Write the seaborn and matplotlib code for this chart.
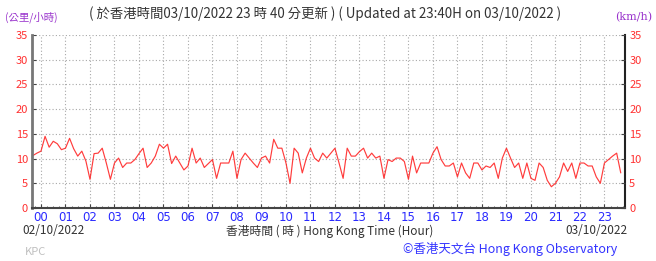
import numpy as np
import pandas as pd
import matplotlib
matplotlib.use("Agg")
import matplotlib.pyplot as plt
from matplotlib.ticker import MultipleLocator
import seaborn as sns

# ---- data (10-minute samples, minutes relative to 00:00 of 03/10/2022) ----
minutes = np.arange(-20, 1421, 10)
speed_kmh = [
    10.6, 11.1, 11.5, 14.5, 12.3, 13.5, 13.0, 11.8, 12.1, 14.1,
    12.0, 10.5, 11.5, 9.5, 5.8, 11.0, 11.1, 12.1, 9.1, 5.8,
    9.1, 10.1, 8.2, 9.1, 9.1, 9.8, 11.0, 12.1, 8.2, 9.1,
    10.5, 12.9, 12.1, 12.9, 9.0, 10.5, 9.1,
    7.7, 8.5, 12.1, 9.1, 10.1, 8.2, 9.0, 9.8, 6.0, 9.1,
    9.1, 9.1, 11.5, 6.0, 9.8, 11.1, 10.1, 9.1, 8.2, 10.1,
    10.5, 9.1, 13.9, 12.1, 12.1, 9.1, 5.0, 12.1, 11.1, 7.1,
    10.1, 12.1, 10.1, 9.4, 11.1,
    10.1, 11.1, 12.1, 9.1, 6.0, 12.1, 10.5, 10.5, 11.4, 12.1,
    10.1, 11.1, 10.1, 10.5, 6.0, 9.8, 9.4, 10.1, 10.1, 9.4,
    5.8, 10.5, 7.1, 9.1, 9.1, 9.1, 11.1, 12.4, 9.8, 8.5,
    8.5, 9.1, 6.3, 9.1, 7.1, 6.0,
    9.1, 9.1, 7.7, 8.5, 8.2, 9.1, 6.0, 10.1, 12.1, 10.1,
    8.2, 9.1, 6.0, 9.1, 6.0, 5.6, 9.1, 8.2, 5.6, 4.3,
    5.0, 6.3, 9.1, 7.4, 9.1, 6.0, 9.1, 9.1, 8.5, 8.5,
    6.3, 5.0, 9.1, 9.8, 10.5, 11.1, 7.1,
]
hour_labels = [f"{h:02d}" for h in range(24)]
y_ticks = [0, 5, 10, 15, 20, 25, 30, 35]

title_text = "( 於香港時間03/10/2022 23 時 40 分更新 ) ( Updated at 23:40H on 03/10/2022 )"
unit_zh = "(公里/小時)"
unit_en = "(km/h)"
date_left = "02/10/2022"
date_right = "03/10/2022"
xlabel_text = "香港時間 ( 時 ) Hong Kong Time (Hour)"
station = "KPC"
credit = "©香港天文台 Hong Kong Observatory"

df = pd.DataFrame({"hour": minutes / 60.0, "speed": speed_kmh})

# ---- style ----
sns.set_theme(style="white")
plt.rcParams["font.family"] = ["Noto Sans CJK TC", "DejaVu Sans"]

W, H = 656, 261
fig = plt.figure(figsize=(W / 100, H / 100), dpi=100)
fig.patch.set_facecolor("white")

x0, x1, ytop, ybot = 32, 625, 35, 208
ax = fig.add_axes([x0 / W, 1 - ybot / H, (x1 - x0) / W, (ybot - ytop) / H])
ax.set_facecolor("white")

sns.lineplot(data=df, x="hour", y="speed", ax=ax, color="#ff1a1a",
             linewidth=0.85, alpha=0.85, legend=False)

ax.set_xlim(-0.367, 23.84)
ax.set_ylim(0, 35)
ax.set_xticks(range(24))
ax.set_xticklabels(hour_labels)
ax.xaxis.set_minor_locator(MultipleLocator(0.25))
ax.set_yticks(y_ticks)
ax.set_yticklabels([str(v) for v in y_ticks])
ax.set_xlabel("")
ax.set_ylabel("")

ax.grid(True, which="major", color="#a8a8a8", linestyle=(0, (1, 2)), linewidth=0.8)
ax.tick_params(axis="x", which="major", direction="in", length=3, width=0.8,
               colors="#444444", labelcolor="#2a2aff", labelsize=8.5, pad=2, bottom=True)
ax.tick_params(axis="x", which="minor", direction="in", length=1.5, width=0.6,
               colors="#444444", bottom=True)
ax.tick_params(axis="y", which="major", direction="in", length=3, width=0.8,
               colors="#444444", labelcolor="#ff3030", labelsize=8, pad=3, left=True)

for lab in ax.get_xticklabels():
    lab.set_fontfamily(["DejaVu Sans"])

ax.spines["top"].set_visible(False)
ax.spines["left"].set_color("#777777")
ax.spines["left"].set_linewidth(2.0)
ax.spines["bottom"].set_color("#444444")
ax.spines["bottom"].set_linewidth(1.5)
ax.spines["right"].set_color("#222222")
ax.spines["right"].set_linewidth(1.5)

ax2 = ax.twinx()
ax2.set_ylim(0, 35)
ax2.set_yticks(y_ticks)
ax2.set_yticklabels([str(v) for v in y_ticks])
ax2.tick_params(axis="y", direction="in", length=3, width=0.8, colors="#444444",
                labelcolor="#ff3030", labelsize=8, pad=3, right=True)
for s in ["top", "left", "bottom", "right"]:
    ax2.spines[s].set_visible(False)
ax2.grid(False)


def px(x, y):
    return x / W, 1 - y / H


fig.text(*px(5, 17), unit_zh, color="#9933cc", fontsize=7.5, va="center", ha="left")
fig.text(*px(325, 14), title_text, color="#333333", fontsize=9.6, va="center", ha="center")
fig.text(*px(652, 17), unit_en, color="#9933cc", fontsize=8, va="center", ha="right",
         family=["DejaVu Serif"])
fig.text(*px(22, 231), date_left, color="#333333", fontsize=8.5, va="center", ha="left")
fig.text(*px(330, 231), xlabel_text, color="#333333", fontsize=8.5, va="center", ha="center")
fig.text(*px(628, 231), date_right, color="#333333", fontsize=8.5, va="center", ha="right")
fig.text(*px(25, 252), station, color="#c0c0c0", fontsize=8, va="center", ha="left")
fig.text(*px(617, 249), credit, color="#3333ff", fontsize=9, va="center", ha="right")

fig.savefig("out.png", dpi=100, facecolor="white")
